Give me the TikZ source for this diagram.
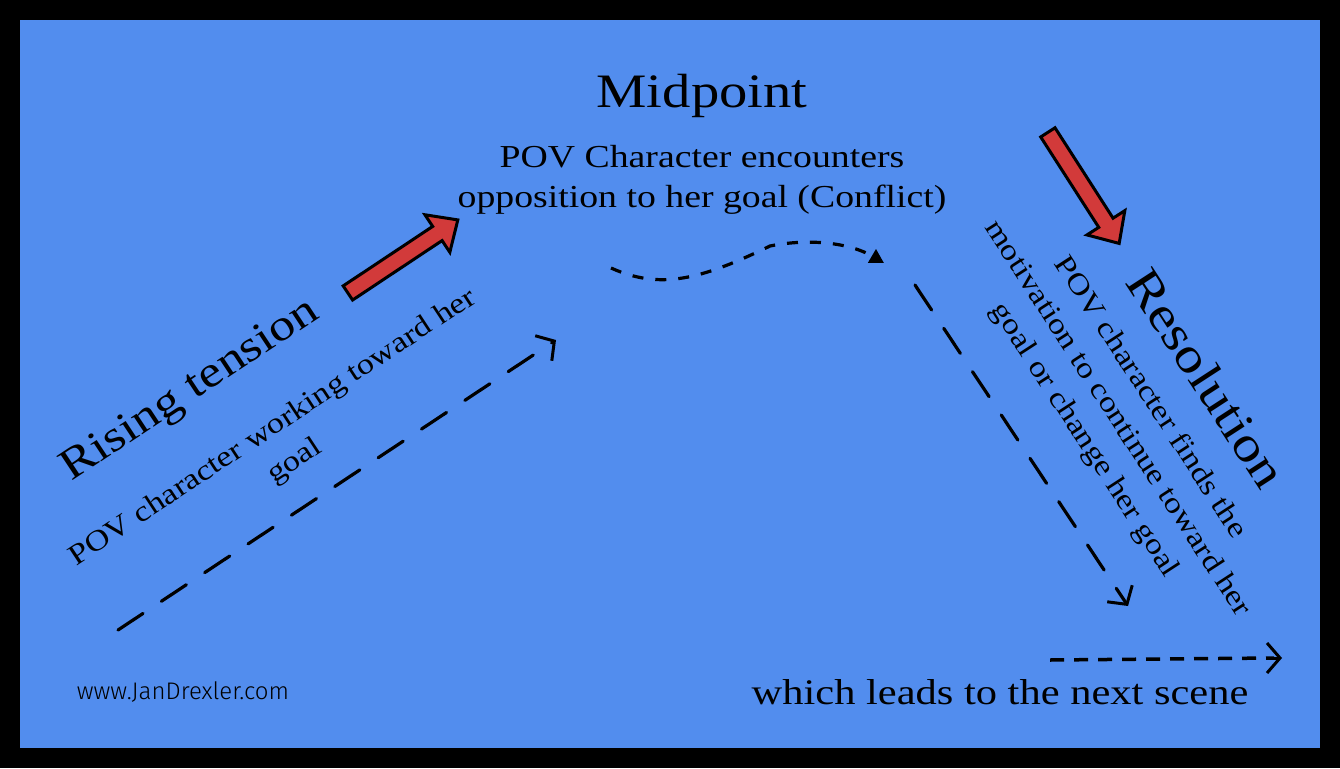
\documentclass[tikz,border=0pt]{standalone}
\usepackage{fontspec}
\setmainfont{Liberation Serif}[FakeStretch=1.18]
\newfontfamily\handfont{Fira Sans Light}
\usetikzlibrary{arrows.meta,shapes.arrows}
\definecolor{bgblue}{HTML}{528DEE}
\definecolor{arred}{HTML}{D23A3A}
\tikzset{
  txt/.style={font=#1, text=black, align=center, inner sep=0pt},
  redarrow/.style={single arrow, draw=black, line width=3pt, fill=arred, minimum height=132pt,
     single arrow head extend=14pt, inner sep=7pt, single arrow tip angle=85},
  barb/.style={-{Straight Barb[length=13pt,width=30pt,line width=3pt]}},
  longdash/.style={line width=3.2pt, dash pattern=on 30pt off 22pt, line cap=round, barb},
  shortdash/.style={line width=3.5pt, dash pattern=on 14pt off 10pt},
}
\begin{document}
\begin{tikzpicture}[x=1pt,y=-1pt]
\fill[black] (0,0) rectangle (1340,768);
\fill[bgblue] (20,20) rectangle (1320,748);
\useasboundingbox (0,0) rectangle (1340,768);

% titles
\node[txt={\fontsize{48}{52}\selectfont}] (mid) at (702,96) {Midpoint};
\node[txt={\fontsize{32}{40}\selectfont}] (midtxt) at (702,180) {POV Character encounters\\opposition to her goal (Conflict)};

\node[txt={\fontsize{44}{50}\selectfont}, rotate=33.5] (rise) at (191,391) {Rising tension};
\node[txt={\fontsize{29}{40}\selectfont}, rotate=33.4] (risetxt) at (284,445) {POV character working toward her\\goal};

\node[txt={\fontsize{49}{54}\selectfont}, rotate=-57] (res) at (1207,378) {Resolution};
\node[txt={\fontsize{29}{39}\selectfont}, rotate=-57] (restxt) at (1117,419) {POV character finds the\\motivation to continue toward her\\goal or change her goal};

\node[txt={\fontsize{36}{40}\selectfont}] (next) at (1000,692) {which leads to the next scene};
\node[txt={\handfont\fontsize{24}{28}\selectfont}] (web) at (183,692) {www.JanDrexler.com};

% red arrows
\node[redarrow, rotate=33.6] (ra1) at (399,259) {};
\node[redarrow, rotate=-57.3] (ra2) at (1081,184) {};

% dashed arrows
\coordinate (a1s) at (118,630);
\coordinate (a1e) at (556,340);
\draw[longdash] (a1s) -- (a1e);

\coordinate (ws) at (611,268);
\coordinate (we) at (884,263);
\draw[line width=3.2pt, dash pattern=on 11pt off 12pt, -{Triangle[length=14pt,width=15pt]}]
  (ws) .. controls (660,290) and (700,280) .. (770,246) .. controls (810,238) and (850,243) .. (we);

\coordinate (a3s) at (915,285);
\coordinate (a3e) at (1128,606);
\draw[longdash] (a3s) -- (a3e);

\coordinate (a4s) at (1050,660);
\coordinate (a4e) at (1282,658);
\draw[shortdash] (a4s) -- ([xshift=-8pt]a4e);
\draw[line width=3pt, barb] ([xshift=-10pt]a4e) -- (a4e);
\end{tikzpicture}
\end{document}
